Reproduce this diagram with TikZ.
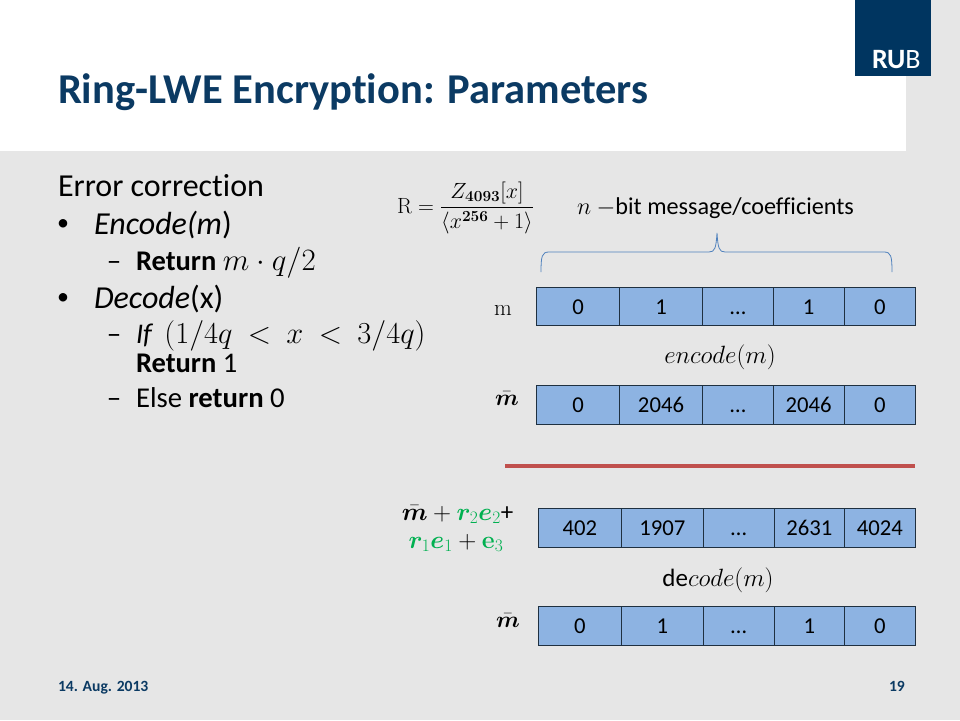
\documentclass[tikz,border=0pt]{standalone}
\usepackage{fix-cm}
\usepackage{amsmath,bm}
\usepackage[no-math]{fontspec}
\setmainfont[RawFeature={-liga;-clig}]{Carlito}
\definecolor{bg}{HTML}{E6E6E6}
\definecolor{rubblue}{HTML}{003560}
\definecolor{titleblue}{HTML}{0B3A63}
\definecolor{cellblue}{HTML}{8DB3E2}
\definecolor{cellline}{HTML}{1F3040}
\definecolor{bracecol}{HTML}{4F81BD}
\definecolor{redline}{HTML}{C0504D}
\definecolor{errgreen}{HTML}{00B050}
\newcommand{\fs}[1]{\fontsize{#1}{#1}\selectfont}
\newcommand{\mbar}{\bar{\bm{m}}}
\newcommand{\grn}[1]{\textcolor{errgreen}{#1}}
\tikzset{
 x=1pt,y=-1pt,
 txt/.style={anchor=base west,inner sep=0pt,outer sep=0pt,text=black},
 cellbox/.style={draw=cellline,line width=1pt,fill=cellblue,inner sep=0pt,outer sep=0pt,minimum height=38.5pt,text height=15pt,text depth=0pt,font=\fs{22.7},text=black},
 lab/.style={anchor=base,inner sep=0pt,outer sep=0pt,text=black},
 bullet/.style={anchor=base,inner sep=0pt,outer sep=0pt,text=black}
}
\usetikzlibrary{calc}
% name, left, right, centre y, text
\newcommand{\cellnode}[5]{\path let \n1={#3-#2} in node[cellbox,minimum width=\n1pt] (#1) at ({(#2+#3)/2},#4) {#5};}
\begin{document}
\begin{tikzpicture}
\useasboundingbox (0,0) rectangle (960,720);
\fill[bg] (0,0) rectangle (960,720);
\fill[white] (0,0) rectangle (906,151);
\fill[rubblue] (855,0) rectangle (931,76);
\node[txt,text=white] (logo) at (872,68) {\fs{28}\textbf{RU}B};
\node[txt,text=titleblue] (title) at (58,103) {\fs{42.5}\textbf{Ring-LWE Encryption: Parameters}};

\node[txt] (h) at (58,196) {\fs{32}Error correction};
\node[bullet] (b1) at (63,230) {\fs{24}•};
\node[txt] (enc) at (94,234) {\fs{32}\textit{Encode(m}{)}};
\node[bullet] (d1) at (114,270) {\fs{29}–};
\node[txt] (ret) at (136,270) {\fs{28.5}\textbf{Return} \fs{31}$m\cdot q/2$};
\node[bullet] (b2) at (63,304) {\fs{24}•};
\node[txt] (dec) at (94,308) {\fs{32}\textit{Decode}(x)};
\node[bullet] (d2) at (114,343) {\fs{29}–};
\node[txt] (if) at (136,343) {\fs{28.5}\textit{If}\, \fs{30.5}$(1/4q\ <\ x\ <\ 3/4q)$};
\node[txt] (ret1) at (136,372) {\fs{28.5}\textbf{Return} 1};
\node[bullet] (d3) at (114,407) {\fs{29}–};
\node[txt] (els) at (136,407) {\fs{28.7}Else \textbf{return} 0};

\node[txt] (ring) at (397,213) {\fs{22}$\mathrm{R}=\dfrac{Z_{\bm{4093}}[x]}{\langle x^{\bm{256}}+1\rangle}$};
\node[txt] (nbit) at (577,214) {\fs{24.2}$n$ $-$bit message/coefficients};

\coordinate (bl) at (541,272);
\coordinate (br) at (892,272);
\coordinate (bt) at (717,233);
\draw[bracecol,line width=0.8pt] (bl) .. controls (541,256) and (542,252) .. (549,252)
  -- (709,252) .. controls (715,252) and (716,248) .. (bt)
  .. controls (718,248) and (719,252) .. (725,252)
  -- (884,252) .. controls (891,252) and (892,256) .. (br);

\node[lab] (lm) at (503,315) {\fs{23}$\mathrm{m}$};
\cellnode{a1}{536.7}{619.3}{306.5}{0}
\cellnode{a2}{619.3}{702.7}{306.5}{1}
\cellnode{a3}{702.7}{773.2}{306.5}{…}
\cellnode{a4}{773.2}{844.2}{306.5}{1}
\cellnode{a5}{844.2}{915.5}{306.5}{0}

\node[lab] (encl) at (720,363) {\fs{25}$encode(m)$};

\node[lab] (lmb) at (507,405) {\fs{23}$\mbar$};
\cellnode{c1}{536.7}{619.3}{404.8}{0}
\cellnode{c2}{619.3}{702.7}{404.8}{2046}
\cellnode{c3}{702.7}{773.2}{404.8}{…}
\cellnode{c4}{773.2}{844.2}{404.8}{2046}
\cellnode{c5}{844.2}{915.5}{404.8}{0}

\coordinate (rl) at (505,465.5);
\coordinate (rr) at (915,465.5);
\draw[redline,line width=4pt] (rl) -- (rr);

\node[lab] (s1) at (457.5,520) {\fs{25}$\mbar+\grn{\bm{r}_2\bm{e}_2}$+};
\node[lab] (s2) at (456,548) {\fs{25}$\grn{\bm{r}_1\bm{e}_1}+\grn{\mathbf{e}_3}$};
\cellnode{e1}{538.4}{621.4}{528}{402}
\cellnode{e2}{621.4}{703.3}{528}{1907}
\cellnode{e3}{703.3}{774.3}{528}{…}
\cellnode{e4}{774.3}{844.2}{528}{2631}
\cellnode{e5}{844.2}{915.5}{528}{4024}

\node[lab] (decl) at (718,586) {\fs{25}de$code(m)$};

\node[lab] (lmc) at (508,627) {\fs{23}$\mbar$};
\cellnode{g1}{538.4}{621.4}{626}{0}
\cellnode{g2}{621.4}{703.3}{626}{1}
\cellnode{g3}{703.3}{774.3}{626}{…}
\cellnode{g4}{774.3}{844.2}{626}{1}
\cellnode{g5}{844.2}{915.5}{626}{0}

\node[txt,text=titleblue] (date) at (58,691) {\fs{15.6}\textbf{14. Aug. 2013}};
\node[anchor=base east,inner sep=0pt,text=titleblue] (pg) at (905,691) {\fs{15.6}\textbf{19}};
\end{tikzpicture}
\end{document}
